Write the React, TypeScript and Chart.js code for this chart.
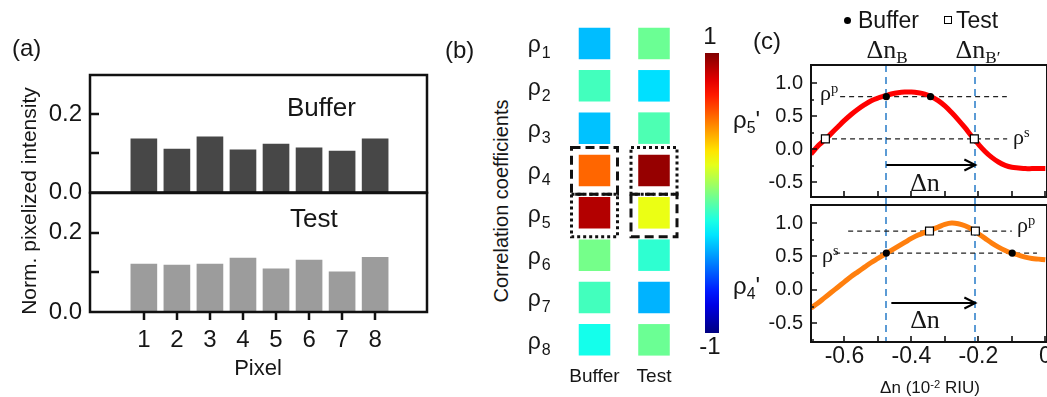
import React, { useEffect, useRef } from 'react';
import { Chart, registerables } from 'chart.js';

Chart.register(...registerables);

const SANS = '"Liberation Sans", Arial, sans-serif';
const SERIF = '"Liberation Serif", "Times New Roman", serif';
const INK = '#161616';
Chart.defaults.font.family = '"Liberation Sans", Arial, sans-serif';

/* ---------- Panel (a): normalized pixelized intensity ---------- */
const pixelIndex = [1, 2, 3, 4, 5, 6, 7, 8];
const bufferIntensity = [0.137, 0.111, 0.142, 0.109, 0.124, 0.114, 0.106, 0.137];
const testIntensity = [0.121, 0.118, 0.121, 0.136, 0.109, 0.131, 0.101, 0.138];
const intensityTickLabels = [0, 0.2];
const intensityTickMarks = [0.1, 0.2];

/* ---------- Panel (b): correlation coefficients ---------- */
const rhoIndex = [1, 2, 3, 4, 5, 6, 7, 8];
const heatColumns = ['Buffer', 'Test'];
const bufferCoeffs = [-0.38, -0.12, -0.37, 0.55, 0.9, -0.02, -0.12, -0.21];
const testCoeffs = [-0.04, -0.31, -0.1, 0.955, 0.21, -0.16, -0.4, -0.04];
const colorbarTicks = [1, -1];
const boxedRows = [4, 5];
const bufferBoxStyles = ['dash', 'dot'];
const testBoxStyles = ['dot', 'dash'];

/* ---------- Panel (c): rho' vs delta n ---------- */
const dnGrid = [-0.7, -0.68, -0.66, -0.64, -0.62, -0.6, -0.58, -0.56, -0.54, -0.52, -0.5, -0.48, -0.46, -0.44, -0.42, -0.4, -0.38, -0.36, -0.34, -0.32, -0.3, -0.28, -0.26, -0.24, -0.22, -0.2, -0.18, -0.16, -0.14, -0.12, -0.1, -0.08, -0.06, -0.04, -0.02, 0];
const rho5Curve = [-0.07, 0.05, 0.14, 0.24, 0.34, 0.44, 0.53, 0.61, 0.68, 0.74, 0.78, 0.81, 0.84, 0.86, 0.87, 0.87, 0.86, 0.84, 0.8, 0.74, 0.66, 0.56, 0.45, 0.33, 0.2, 0.08, -0.03, -0.12, -0.19, -0.24, -0.27, -0.28, -0.29, -0.29, -0.29, -0.29];
const rho4Curve = [-0.27, -0.2, -0.12, -0.04, 0.04, 0.12, 0.2, 0.27, 0.34, 0.41, 0.47, 0.53, 0.59, 0.65, 0.71, 0.77, 0.82, 0.86, 0.9, 0.94, 0.98, 1.0, 0.99, 0.96, 0.91, 0.84, 0.77, 0.7, 0.64, 0.59, 0.55, 0.52, 0.49, 0.47, 0.46, 0.45];
const rho5BufferX = [-0.475, -0.343];
const rho5BufferY = [0.8, 0.8];
const rho5TestX = [-0.657, -0.212];
const rho5TestY = [0.16, 0.16];
const rho5LevelY = [0.8, 0.16];
const rho5LevelFrom = [-0.613, -0.664];
const rho5LevelTo = [-0.115, -0.114];
const rho4BufferX = [-0.475, -0.099];
const rho4BufferY = [0.55, 0.55];
const rho4TestX = [-0.346, -0.209];
const rho4TestY = [0.88, 0.88];
const rho4LevelY = [0.88, 0.55];
const rho4LevelFrom = [-0.589, -0.628];
const rho4LevelTo = [-0.1, -0.025];
const dnMarkers = [-0.475, -0.209];
const shiftArrowY = [-0.23, -0.19];
const shiftArrowFrom = [-0.475, -0.46];
const dnTickLabels = [-0.6, -0.4, -0.2, 0];
const dnTickMarks = [-0.7, -0.6, -0.5, -0.4, -0.3, -0.2, -0.1, 0];
const rhoTickLabels = [-0.5, 0, 0.5, 1.0];
const rhoMinorMarks = [-0.75, -0.25, 0.25, 0.75];

type Box = [number, number, number, number];
type Area = [number, number, number, number];

function jet(v: number): string {
  const t = (v + 1) / 2;
  const c = (x: number) => Math.max(0, Math.min(1, x));
  const r = c(1.5 - Math.abs(4 * t - 3));
  const g = c(1.5 - Math.abs(4 * t - 2));
  const b = c(1.5 - Math.abs(4 * t - 1));
  return `rgb(${Math.round(r * 255)},${Math.round(g * 255)},${Math.round(b * 255)})`;
}

function padFor(box: Box, area: Area, yAxisW: number, xAxisH: number) {
  const [l, t, w, h] = box;
  const [x1, y1, x2, y2] = area;
  return { left: x1 - l - yAxisW, top: y1 - t, right: l + w - x2, bottom: t + h - y2 - xAxisH };
}

function baseOptions(padding: any) {
  return {
    animation: false,
    responsive: false,
    maintainAspectRatio: false,
    events: [],
    layout: { padding },
    plugins: { legend: { display: false }, tooltip: { enabled: false } },
  };
}

function yAxis(min: number, max: number, width: number, labels: number[], size: number) {
  return {
    type: 'linear',
    min,
    max,
    afterFit: (s: any) => { s.width = width; },
    afterBuildTicks: (s: any) => { s.ticks = labels.map((v) => ({ value: v })); },
    grid: { display: false, drawTicks: false },
    border: { display: false },
    ticks: {
      font: { family: 'Liberation Sans', size },
      color: INK,
      padding: 8,
      autoSkip: false,
      callback: (v: any) => Number(v).toFixed(1),
    },
  };
}

function framePlugin(cfg: any) {
  return {
    id: 'frame',
    afterDraw(chart: any) {
      const { ctx, chartArea: a } = chart;
      const xs = chart.scales.x;
      const ys = chart.scales.y;
      ctx.save();
      ctx.strokeStyle = '#111';
      ctx.lineWidth = cfg.lineWidth;
      ctx.lineCap = 'square';
      ctx.setLineDash([]);
      ctx.beginPath();
      if (cfg.top) { ctx.moveTo(a.left, a.top); ctx.lineTo(a.right, a.top); }
      if (cfg.bottom) { ctx.moveTo(a.left, a.bottom); ctx.lineTo(a.right, a.bottom); }
      if (cfg.left) { ctx.moveTo(a.left, a.top); ctx.lineTo(a.left, a.bottom); }
      if (cfg.right) { ctx.moveTo(a.right, a.top); ctx.lineTo(a.right, a.bottom); }
      ctx.stroke();
      ctx.lineCap = 'butt';
      ctx.lineWidth = cfg.tickWidth;
      ctx.beginPath();
      (cfg.yMarks || []).forEach(([vals, len]: [number[], number]) => {
        vals.forEach((v) => {
          if (v < ys.min || v > ys.max) return;
          const p = Math.round(ys.getPixelForValue(v));
          ctx.moveTo(a.left, p);
          ctx.lineTo(a.left + len, p);
        });
      });
      (cfg.xMarks || []).forEach(([vals, len]: [number[], number]) => {
        vals.forEach((v) => {
          if (v < xs.min || v > xs.max) return;
          const p = Math.round(xs.getPixelForValue(v));
          ctx.moveTo(p, a.bottom);
          ctx.lineTo(p, a.bottom - len);
        });
      });
      ctx.stroke();
      ctx.restore();
    },
  };
}

/* ---------- Panel (a) charts ---------- */
const A1_BOX: Box = [0, 50, 460, 165];
const A1_AREA: Area = [90, 75, 427, 193];
const A2_BOX: Box = [0, 170, 460, 227];
const A2_AREA: Area = [90, 193, 427, 312];

function makeBars(which: 'buffer' | 'test') {
  const isTop = which === 'buffer';
  const box = isTop ? A1_BOX : A2_BOX;
  const area = isTop ? A1_AREA : A2_AREA;
  const xAxisH = isTop ? 0 : box[1] + box[3] - area[3];
  const values = isTop ? bufferIntensity : testIntensity;
  return {
    type: 'bar',
    data: {
      datasets: [{
        data: pixelIndex.map((p, i) => ({ x: p, y: values[i] })),
        backgroundColor: isTop ? '#474747' : '#9c9c9c',
        barThickness: 26,
        borderWidth: 0,
      }],
    },
    options: {
      ...baseOptions(padFor(box, area, 90, xAxisH)),
      scales: {
        x: isTop
          ? { type: 'linear', min: -0.63, max: 9.57, offset: false, display: false }
          : {
              type: 'linear', min: -0.63, max: 9.57, offset: false,
              afterFit: (s: any) => { s.height = xAxisH; },
              afterBuildTicks: (s: any) => { s.ticks = pixelIndex.map((v) => ({ value: v })); },
              grid: { display: false, drawTicks: false, offset: false },
              border: { display: false },
              ticks: { font: { family: 'Liberation Sans', size: 24 }, color: INK, padding: 14, autoSkip: false, maxRotation: 0, callback: (v: any) => String(v) },
            },
        y: yAxis(0, 0.3, 90, intensityTickLabels, 24),
      },
    },
    plugins: [framePlugin({
      top: true, bottom: true, left: true, right: true, lineWidth: 2.5, tickWidth: 2.5,
      yMarks: [[intensityTickMarks, 9]],
      xMarks: isTop ? [] : [[pixelIndex, -8]],
    })],
  };
}

/* ---------- Panel (b) charts ---------- */
const B_BOX: Box = [515, 0, 195, 392];
const B_AREA: Area = [564.75, 16.5, 683.75, 361];
const CB_BOX: Box = [690, 15, 40, 350];
const CB_AREA: Area = [705, 53, 719, 333];

const heatDecor = {
  id: 'heatDecor',
  afterDatasetsDraw(chart: any) {
    const { ctx, chartArea: a } = chart;
    const xs = chart.scales.x;
    const ys = chart.scales.y;
    ctx.save();
    ctx.strokeStyle = '#111';
    ctx.lineWidth = 3;
    heatColumns.forEach((_, ci) => {
      const styles = ci === 0 ? bufferBoxStyles : testBoxStyles;
      const cx = xs.getPixelForValue(ci);
      const y4 = ys.getPixelForValue(boxedRows[0]);
      const y5 = ys.getPixelForValue(boxedRows[1]);
      const mid = (y4 + y5) / 2 + 2.5;
      const rects = [[y4 - 23, mid], [mid, y5 + 24]];
      rects.forEach(([t, b], k) => {
        ctx.setLineDash(styles[k] === 'dash' ? [9, 5] : [3, 3]);
        ctx.strokeRect(cx - 23, t, 46, b - t);
      });
    });
    ctx.setLineDash([]);
    ctx.fillStyle = INK;
    ctx.textAlign = 'left';
    ctx.textBaseline = 'alphabetic';
    rhoIndex.forEach((r) => {
      const cy = ys.getPixelForValue(r);
      const lx = a.left - 37;
      ctx.font = `23px ${SANS}`;
      ctx.fillText('ρ', lx, cy + 9);
      const w = ctx.measureText('ρ').width;
      ctx.font = `16px ${SANS}`;
      ctx.fillText(String(r), lx + w + 1, cy + 15);
    });
    ctx.font = `19px ${SANS}`;
    ctx.textAlign = 'center';
    ctx.textBaseline = 'middle';
    heatColumns.forEach((c, ci) => ctx.fillText(c, xs.getPixelForValue(ci), a.bottom + 16));
    ctx.restore();
  },
};

function makeHeat() {
  const cells = [
    ...bufferCoeffs.map((v, i) => ({ x: 0, y: rhoIndex[i], v })),
    ...testCoeffs.map((v, i) => ({ x: 1, y: rhoIndex[i], v })),
  ];
  const color = (c: any) => jet(c.raw ? c.raw.v : 0);
  return {
    type: 'scatter',
    data: {
      datasets: [{
        data: cells,
        pointStyle: 'rect',
        pointRadius: 22.3,
        pointHoverRadius: 22.3,
        pointBorderWidth: 0,
        borderWidth: 0,
        backgroundColor: color,
        pointBackgroundColor: color,
        clip: false,
      }],
    },
    options: {
      ...baseOptions(padFor(B_BOX, B_AREA, 0, 0)),
      scales: {
        x: { type: 'linear', min: -0.5, max: 1.5, offset: false, display: false },
        y: { type: 'linear', min: 0.5, max: 8.5, reverse: true, display: false },
      },
    },
    plugins: [heatDecor],
  };
}

const colorbarLabels = {
  id: 'cbLabels',
  afterDraw(chart: any) {
    const { ctx, chartArea: a } = chart;
    const ys = chart.scales.y;
    ctx.save();
    ctx.font = `24px ${SANS}`;
    ctx.fillStyle = INK;
    ctx.textAlign = 'center';
    ctx.textBaseline = 'middle';
    colorbarTicks.forEach((v) => {
      const py = ys.getPixelForValue(v);
      ctx.fillText(String(v), (a.left + a.right) / 2 - 2, v > 0 ? py - 16 : py + 14);
    });
    ctx.restore();
  },
};

function makeColorbar() {
  return {
    type: 'bar',
    data: {
      labels: ['ρ'],
      datasets: [{
        data: [[colorbarTicks[1], colorbarTicks[0]]],
        barPercentage: 1,
        categoryPercentage: 1,
        borderWidth: 0,
        backgroundColor: (c: any) => {
          const chart = c.chart;
          const a = chart.chartArea;
          if (!a) return '#888';
          const g = chart.ctx.createLinearGradient(0, a.bottom, 0, a.top);
          for (let i = 0; i <= 20; i++) {
            const t = i / 20;
            g.addColorStop(t, jet(-1 + 2 * t));
          }
          return g;
        },
      }],
    },
    options: {
      ...baseOptions(padFor(CB_BOX, CB_AREA, 0, 0)),
      scales: {
        x: { display: false },
        y: { type: 'linear', min: -1, max: 1, display: false },
      },
    },
    plugins: [colorbarLabels],
  };
}

/* ---------- Panel (c) charts ---------- */
const C1_BOX: Box = [740, 40, 340, 180];
const C1_AREA: Area = [811, 65, 1047, 197];
const C2_BOX: Box = [740, 180, 340, 217];
const C2_AREA: Area = [811, 205, 1047, 342];

function dnPlugin(idx: number, extendBottom: number) {
  return {
    id: 'dnAnnot',
    beforeDatasetsDraw(chart: any) {
      const { ctx, chartArea: a } = chart;
      const xs = chart.scales.x;
      ctx.save();
      ctx.strokeStyle = '#5b9bd5';
      ctx.lineWidth = 2;
      ctx.setLineDash([7, 5]);
      dnMarkers.forEach((v) => {
        const px = Math.round(xs.getPixelForValue(v));
        ctx.beginPath();
        ctx.moveTo(px, a.top);
        ctx.lineTo(px, a.bottom + extendBottom);
        ctx.stroke();
      });
      ctx.restore();
    },
    afterDatasetsDraw(chart: any) {
      const { ctx } = chart;
      const xs = chart.scales.x;
      const ys = chart.scales.y;
      const x1 = xs.getPixelForValue(shiftArrowFrom[idx]);
      const x2 = xs.getPixelForValue(dnMarkers[1]);
      const py = Math.round(ys.getPixelForValue(shiftArrowY[idx]));
      ctx.save();
      ctx.strokeStyle = '#000';
      ctx.lineWidth = 2;
      ctx.setLineDash([]);
      ctx.beginPath();
      ctx.moveTo(x1, py);
      ctx.lineTo(x2 - 1, py);
      ctx.stroke();
      ctx.beginPath();
      ctx.moveTo(x2 - 11, py - 5.5);
      ctx.lineTo(x2, py);
      ctx.lineTo(x2 - 11, py + 5.5);
      ctx.stroke();
      ctx.restore();
    },
  };
}

function makeCurve(which: 'rho5' | 'rho4') {
  const top = which === 'rho5';
  const box = top ? C1_BOX : C2_BOX;
  const area = top ? C1_AREA : C2_AREA;
  const xAxisH = top ? 0 : box[1] + box[3] - area[3];
  const curve = top ? rho5Curve : rho4Curve;
  const bufX = top ? rho5BufferX : rho4BufferX;
  const bufY = top ? rho5BufferY : rho4BufferY;
  const testX = top ? rho5TestX : rho4TestX;
  const testY = top ? rho5TestY : rho4TestY;
  const levY = top ? rho5LevelY : rho4LevelY;
  const levFrom = top ? rho5LevelFrom : rho4LevelFrom;
  const levTo = top ? rho5LevelTo : rho4LevelTo;
  const yMin = top ? -0.72 : -0.78;
  const yMax = top ? 1.28 : 1.27;
  const datasets: any[] = [
    {
      data: bufX.map((x, i) => ({ x, y: bufY[i] })),
      showLine: false, pointStyle: 'circle', pointRadius: 3.6,
      pointBackgroundColor: '#000', pointBorderColor: '#000', pointBorderWidth: 0, order: 1,
    },
    {
      data: testX.map((x, i) => ({ x, y: testY[i] })),
      showLine: false, pointStyle: 'rect', pointRadius: 5.6,
      pointBackgroundColor: '#fff', pointBorderColor: '#000', pointBorderWidth: 1.2, order: 1,
    },
    {
      data: dnGrid.map((x, i) => ({ x, y: curve[i] })),
      borderColor: top ? '#ff0000' : '#ff7f0e', borderWidth: 5, pointRadius: 0, tension: 0.35, fill: false, order: 2,
    },
    ...levY.map((y, i) => ({
      data: [{ x: levFrom[i], y }, { x: levTo[i], y }],
      borderColor: '#222', borderWidth: 1.2, borderDash: [5, 4], pointRadius: 0, fill: false, order: 3,
    })),
  ];
  return {
    type: 'line',
    data: { datasets },
    options: {
      ...baseOptions(padFor(box, area, 71, xAxisH)),
      scales: {
        x: top
          ? { type: 'linear', min: -0.7, max: 0.005, offset: false, display: false }
          : {
              type: 'linear', min: -0.7, max: 0.005, offset: false,
              afterFit: (s: any) => { s.height = xAxisH; },
              afterBuildTicks: (s: any) => { s.ticks = dnTickLabels.map((v) => ({ value: v })); },
              grid: { display: false, drawTicks: false },
              border: { display: false },
              ticks: {
                font: { family: 'Liberation Sans', size: 23 }, color: INK, padding: 1, autoSkip: false, maxRotation: 0,
                callback: (v: any) => (Math.abs(Number(v)) < 1e-9 ? '0' : Number(v).toFixed(1)),
              },
            },
        y: yAxis(yMin, yMax, 71, rhoTickLabels, 20),
      },
    },
    plugins: [
      dnPlugin(top ? 0 : 1, top ? 8 : 0),
      framePlugin({
        top: true, bottom: true, left: true, right: true, lineWidth: 2, tickWidth: 1.6,
        yMarks: [[rhoTickLabels, 6], [rhoMinorMarks, 3]],
        xMarks: [[dnTickMarks, 6]],
      }),
    ],
  };
}

/* ---------- React components ---------- */
function ChartBox({ box, make }: { box: Box; make: () => any }) {
  const ref = useRef<HTMLCanvasElement>(null);
  useEffect(() => {
    const chart = new Chart(ref.current as HTMLCanvasElement, make());
    return () => chart.destroy();
  }, []);
  const [l, t, w, h] = box;
  return (
    <canvas
      ref={ref}
      width={w}
      height={h}
      style={{ position: 'absolute', left: l, top: t, width: w, height: h }}
    />
  );
}

function Label({ x, y, size, family = SANS, align = 'left', rotate = 0, children }: any) {
  const tx = align === 'center' ? '-50%' : align === 'right' ? '-100%' : '0';
  return (
    <div
      style={{
        position: 'absolute', left: x, top: y, fontSize: size, fontFamily: family, lineHeight: 1,
        whiteSpace: 'nowrap', color: INK,
        transform: `translate(${tx}, -50%)${rotate ? ` rotate(${rotate}deg)` : ''}`,
      }}
    >
      {children}
    </div>
  );
}

const subStyle: React.CSSProperties = { fontSize: '0.66em', verticalAlign: 'baseline', position: 'relative', top: '0.32em' };
const supStyle: React.CSSProperties = { fontSize: '0.66em', verticalAlign: 'baseline', position: 'relative', top: '-0.45em' };

export default function App() {
  return (
    <div
      style={{
        position: 'fixed', left: 0, top: 0, width: 1047, height: 397, overflow: 'hidden',
        background: '#fff', fontFamily: SANS, color: INK,
      }}
    >
      <ChartBox box={A1_BOX} make={() => makeBars('buffer')} />
      <ChartBox box={A2_BOX} make={() => makeBars('test')} />
      <ChartBox box={B_BOX} make={makeHeat} />
      <ChartBox box={CB_BOX} make={makeColorbar} />
      <ChartBox box={C1_BOX} make={() => makeCurve('rho5')} />
      <ChartBox box={C2_BOX} make={() => makeCurve('rho4')} />

      {/* Panel (a) */}
      <Label x={12} y={48} size={24}>(a)</Label>
      <Label x={28} y={201} size={21} align="center" rotate={-90}>Norm. pixelized intensity</Label>
      <Label x={287} y={107} size={26}>Buffer</Label>
      <Label x={290} y={218} size={26}>Test</Label>
      <Label x={258} y={368} size={22} align="center">Pixel</Label>

      {/* Panel (b) */}
      <Label x={445} y={50} size={24}>(b)</Label>
      <Label x={501} y={201} size={20} align="center" rotate={-90}>Correlation coefficients</Label>

      {/* Panel (c) */}
      <Label x={753} y={41} size={24}>(c)</Label>
      <div style={{ position: 'absolute', left: 843.5, top: 16.5, width: 7, height: 7, borderRadius: '50%', background: '#000' }} />
      <Label x={858} y={20} size={23}>Buffer</Label>
      <div style={{ position: 'absolute', left: 944, top: 16, width: 8, height: 8, border: '1px solid #000', boxSizing: 'border-box', background: '#fff' }} />
      <Label x={956} y={20} size={23}>Test</Label>
      <Label x={887} y={50} size={26} family={SERIF} align="center">Δn<span style={subStyle}>B</span></Label>
      <Label x={978} y={50} size={26} family={SERIF} align="center">Δn<span style={subStyle}>B′</span></Label>
      <Label x={733} y={120} size={24}>ρ<span style={subStyle}>5</span>'</Label>
      <Label x={733} y={286} size={24}>ρ<span style={subStyle}>4</span>'</Label>
      <Label x={820} y={93} size={22} family={SERIF}>ρ<span style={supStyle}>p</span></Label>
      <Label x={1013} y={137} size={22} family={SERIF}>ρ<span style={supStyle}>s</span></Label>
      <Label x={1017} y={225} size={22} family={SERIF}>ρ<span style={supStyle}>p</span></Label>
      <Label x={822} y={255} size={22} family={SERIF}>ρ<span style={supStyle}>s</span></Label>
      <Label x={925} y={183} size={26} family={SERIF} align="center">Δn</Label>
      <Label x={925} y={320} size={26} family={SERIF} align="center">Δn</Label>
      <Label x={930} y={387} size={17} align="center">Δn (10<span style={supStyle}>-2</span> RIU)</Label>
    </div>
  );
}
